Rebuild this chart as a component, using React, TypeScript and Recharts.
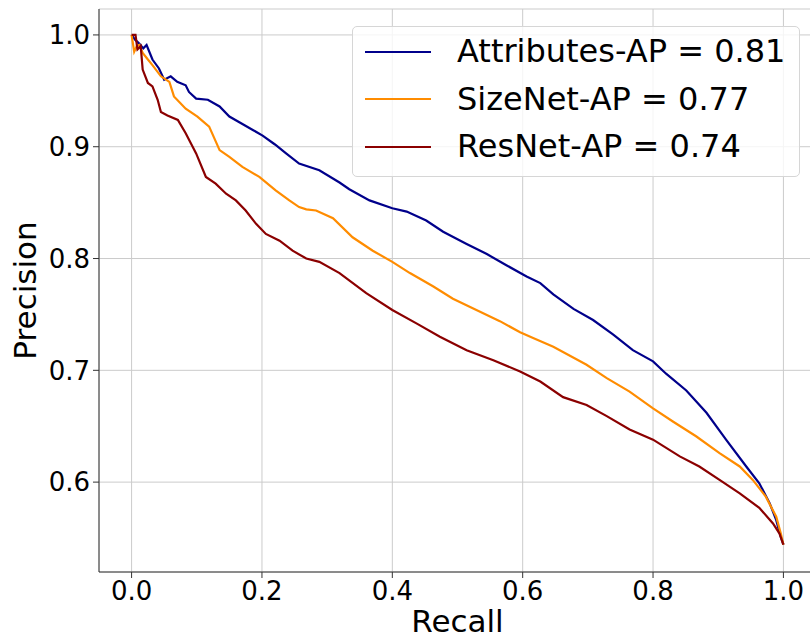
import React from 'react';
import { LineChart, Line, XAxis, YAxis, CartesianGrid, Legend } from 'recharts';

// precision-recall curves
const attrRecall = [0, 0.005, 0.012, 0.018, 0.023, 0.032, 0.042, 0.05, 0.06, 0.07, 0.083, 0.088, 0.099, 0.117, 0.135, 0.15, 0.168, 0.186, 0.201, 0.22, 0.237, 0.257, 0.288, 0.319, 0.334, 0.365, 0.4, 0.422, 0.452, 0.478, 0.514, 0.545, 0.575, 0.606, 0.627, 0.647, 0.678, 0.708, 0.739, 0.769, 0.8, 0.82, 0.851, 0.882, 0.912, 0.943, 0.963, 0.979, 0.989, 0.996, 1.0];
const attrPrecision = [1.0, 0.996, 0.992, 0.988, 0.991, 0.978, 0.97, 0.96, 0.963, 0.958, 0.955, 0.949, 0.943, 0.942, 0.936, 0.927, 0.921, 0.915, 0.91, 0.902, 0.894, 0.885, 0.879, 0.868, 0.862, 0.852, 0.845, 0.842, 0.834, 0.824, 0.813, 0.804, 0.794, 0.784, 0.778, 0.768, 0.755, 0.745, 0.732, 0.718, 0.708, 0.697, 0.682, 0.662, 0.638, 0.614, 0.599, 0.581, 0.566, 0.551, 0.544];

const sizeRecall = [0, 0.004, 0.008, 0.012, 0.017, 0.025, 0.032, 0.045, 0.058, 0.065, 0.083, 0.101, 0.119, 0.135, 0.15, 0.17, 0.196, 0.221, 0.242, 0.257, 0.268, 0.283, 0.309, 0.339, 0.37, 0.4, 0.427, 0.463, 0.493, 0.529, 0.565, 0.596, 0.616, 0.647, 0.698, 0.729, 0.764, 0.8, 0.831, 0.866, 0.902, 0.933, 0.953, 0.973, 0.989, 0.996, 1.0];
const sizePrecision = [1.0, 0.985, 0.99, 0.991, 0.984, 0.978, 0.973, 0.963, 0.958, 0.945, 0.934, 0.927, 0.918, 0.897, 0.891, 0.882, 0.873, 0.861, 0.852, 0.846, 0.844, 0.843, 0.836, 0.819, 0.807, 0.797, 0.787, 0.775, 0.764, 0.754, 0.744, 0.734, 0.729, 0.721, 0.705, 0.693, 0.681, 0.666, 0.654, 0.641, 0.626, 0.614, 0.602, 0.587, 0.569, 0.554, 0.544];

const resRecall = [0, 0.006, 0.009, 0.014, 0.017, 0.025, 0.032, 0.04, 0.045, 0.055, 0.071, 0.083, 0.099, 0.114, 0.129, 0.145, 0.16, 0.175, 0.191, 0.206, 0.227, 0.247, 0.268, 0.288, 0.319, 0.36, 0.4, 0.437, 0.473, 0.514, 0.555, 0.596, 0.627, 0.662, 0.698, 0.729, 0.764, 0.8, 0.841, 0.871, 0.902, 0.933, 0.963, 0.984, 0.994, 1.0];
const resPrecision = [1.0, 1.0, 0.987, 0.99, 0.969, 0.957, 0.954, 0.942, 0.931, 0.928, 0.924, 0.912, 0.894, 0.873, 0.867, 0.858, 0.852, 0.843, 0.831, 0.822, 0.816, 0.807, 0.8, 0.797, 0.787, 0.769, 0.754, 0.742, 0.73, 0.718, 0.709, 0.699, 0.69, 0.676, 0.669, 0.659, 0.647, 0.638, 0.623, 0.614, 0.602, 0.59, 0.577, 0.563, 0.554, 0.544];

const seriesNames = ['Attributes-AP = 0.81', 'SizeNet-AP = 0.77', 'ResNet-AP = 0.74'];
const seriesColors = ['#00008b', '#ff8c00', '#8b0000'];
const xTicks = [0, 0.2, 0.4, 0.6, 0.8, 1.0];
const yTicks = [0.6, 0.7, 0.8, 0.9, 1.0];

const toPoints = (xs: number[], ys: number[]) => xs.map((x, i) => ({ recall: x, precision: ys[i] }));

const series = [
  toPoints(attrRecall, attrPrecision),
  toPoints(sizeRecall, sizePrecision),
  toPoints(resRecall, resPrecision),
];

const FONT = '"DejaVu Sans", Verdana, sans-serif';
const tickStyle = { fontSize: 26, fill: '#000', fontFamily: FONT };

function LegendBox({ payload }: any) {
  // keep the plotting order, recharts sorts the payload by name
  const items = [...(payload || [])].sort(
    (a: any, b: any) => seriesNames.indexOf(a.value) - seriesNames.indexOf(b.value)
  );
  return (
    <div
      style={{
        boxSizing: 'border-box',
        width: 448,
        height: 151,
        border: '1px solid #d6d6d6',
        borderRadius: 5,
        background: 'rgba(255,255,255,0.8)',
        paddingTop: 1,
        fontFamily: FONT,
        fontSize: 32,
        color: '#000',
      }}
    >
      {items.map((p: any) => (
        <div key={p.value} style={{ display: 'flex', alignItems: 'center', height: 47.5 }}>
          <div style={{ marginLeft: 12, width: 66, height: 2, background: p.color }} />
          <span style={{ marginLeft: 26, lineHeight: '47.5px', whiteSpace: 'nowrap' }}>{p.value}</span>
        </div>
      ))}
    </div>
  );
}

const YLabel = ({ viewBox }: any) => {
  const cx = 36;
  const cy = viewBox.y + viewBox.height / 2;
  return (
    <text
      x={cx}
      y={cy}
      transform={`rotate(-90, ${cx}, ${cy})`}
      textAnchor="middle"
      fontSize={31}
      fontFamily={FONT}
      fill="#000"
    >
      Precision
    </text>
  );
};

export default function App() {
  return (
    <div style={{ position: 'absolute', left: 0, top: 0, width: 810, height: 639, overflow: 'hidden', background: '#fff' }}>
      <LineChart width={830} height={639} margin={{ top: 9, right: 14, bottom: 0, left: 0 }}>
        <CartesianGrid stroke="#cbcbcb" strokeWidth={1} />
        <XAxis
          type="number"
          dataKey="recall"
          domain={[-0.05, 1.05]}
          ticks={xTicks}
          tickFormatter={(v: number) => v.toFixed(1)}
          tick={tickStyle}
          tickSize={6}
          tickMargin={4}
          height={67}
          stroke="#333"
          allowDataOverflow
          label={{ value: 'Recall', position: 'insideBottom', offset: 7, fontSize: 31, fontFamily: FONT, fill: '#000' }}
        />
        <XAxis xAxisId="top" orientation="top" type="number" domain={[-0.05, 1.05]} height={0} tick={false} tickLine={false} stroke="#333" />
        <YAxis
          type="number"
          domain={[0.5196, 1.0232]}
          ticks={yTicks}
          tickFormatter={(v: number) => v.toFixed(1)}
          tick={tickStyle}
          tickSize={6}
          tickMargin={3}
          width={99}
          stroke="#333"
          allowDataOverflow
          label={<YLabel />}
        />
        <Legend
          layout="horizontal"
          verticalAlign="middle"
          align="center"
          content={<LegendBox />}
          wrapperStyle={{ left: 352, top: 26, width: 448, height: 151 }}
        />
        {series.map((data, i) => (
          <Line
            key={seriesNames[i]}
            data={data}
            dataKey="precision"
            name={seriesNames[i]}
            type="linear"
            stroke={seriesColors[i]}
            strokeWidth={2.2}
            dot={false}
            isAnimationActive={false}
          />
        ))}
      </LineChart>
    </div>
  );
}
